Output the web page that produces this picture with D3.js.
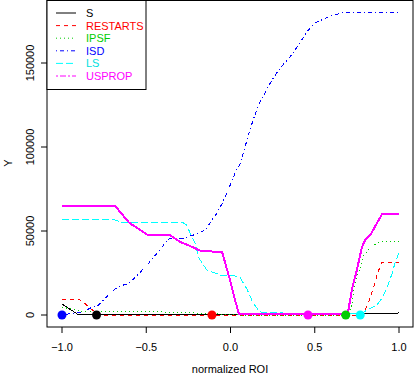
<!DOCTYPE html>
<html>
<head>
<meta charset="utf-8">
<script src="https://cdn.jsdelivr.net/npm/d3@7"></script>
<style>
  body { margin: 0; background: #fff; }
  svg { display: block; }
  text { font-family: "Liberation Sans", Arial, sans-serif; font-size: 11px; }
</style>
</head>
<body>
<svg id="chart" width="414" height="376"></svg>
<script>
// series values: [normalized ROI, Y]
const S = [[-1, 6500], [-0.9, 0], [0.0, 300], [0.5, 600], [0.9, 900], [1.0, 1200]];
const RESTARTS = [[-1, 9500], [-0.9, 9500], [-0.88, 7700], [-0.86, 6500], [-0.83, 3600],
  [-0.81, 2400], [-0.78, 0], [0.78, 0], [0.81, 5400], [0.835, 11900], [0.857, 19000],
  [0.875, 25600], [0.9, 31500], [1.0, 31500]];
const IPSF = [[-1, 4800], [-0.9, 2400], [-0.77, 1800], [-0.6, 2000], [-0.4, 1800],
  [-0.2, 1200], [0.0, 300], [0.05, 0], [0.7, 0], [0.72, 6000], [0.733, 14900],
  [0.75, 22000], [0.77, 28600], [0.786, 34500], [0.816, 38700], [0.87, 42900],
  [0.905, 44000], [1.0, 44000]];
const ISD = [[-1, 0], [-0.93, 1200], [-0.88, 1800], [-0.83, 4200], [-0.79, 5400],
  [-0.73, 11300], [-0.67, 16700], [-0.6, 19000], [-0.54, 25000], [-0.48, 31500],
  [-0.42, 38700], [-0.37, 45200], [-0.28, 45800], [-0.2, 48200], [-0.15, 50600],
  [-0.11, 56500], [-0.08, 60700], [-0.045, 67300], [-0.009, 75600], [0.027, 84500],
  [0.062, 91000], [0.086, 100000], [0.11, 108300], [0.134, 116000], [0.163, 124400],
  [0.205, 132100], [0.246, 139900], [0.294, 147000], [0.353, 153600], [0.4, 160100],
  [0.448, 167900], [0.5, 173800], [0.58, 177400], [0.66, 179800], [0.71, 180000],
  [1.0, 180000]];
const LS = [[-1, 57000], [-0.7, 57000], [-0.64, 55000], [-0.58, 54800], [-0.28, 54800],
  [-0.26, 53600], [-0.24, 48800], [-0.21, 42900], [-0.19, 34500], [-0.18, 32700],
  [-0.14, 26800], [-0.06, 23800], [0.0, 23800], [0.056, 22600], [0.1, 14900],
  [0.134, 7100], [0.175, 1800], [0.28, 1200], [0.78, 1000], [0.81, 3000],
  [0.87, 6000], [0.9, 10100], [0.93, 16700], [0.96, 25000], [0.976, 31000], [1.0, 37000]];
const USPROP = [[-1, 64900], [-0.685, 64900], [-0.6, 54800], [-0.49, 47600],
  [-0.36, 47600], [-0.3, 43500], [-0.24, 41100], [-0.19, 38700], [-0.17, 38100],
  [-0.05, 37500], [-0.033, 31500], [-0.003, 20800], [0.027, 8900], [0.05, 600],
  [0.69, 600], [0.7, 3000], [0.72, 14900], [0.75, 26800], [0.78, 40500], [0.8, 44600],
  [0.83, 47600], [0.87, 54800], [0.9, 60100], [1.0, 60100]];

const names = ["S", "RESTARTS", "IPSF", "ISD", "LS", "USPROP"];
const seriesData = [S, RESTARTS, IPSF, ISD, LS, USPROP];
// x position of the big dot on each series (all at Y = 0)
const markerX = [-0.795, -0.11, 0.684, -1.0, 0.77, 0.46];

const xTicks = [-1.0, -0.5, 0.0, 0.5, 1.0];
const yTicks = [0, 50000, 100000, 150000];

// styles (R-like line types)
const colors = ["#000000", "#ff0000", "#00cd00", "#0000ff", "#00ffff", "#ff00ff"];
const dashes = [null, "4,4", "1,3", "1,3,4,3", "7,3", "2,2,6,2"];
const plotDash = [null, "4,4", "1,3", "1,3,4,3", "7,3", null];
const widths = [1, 1, 1, 1, 1, 2];

const svg = d3.select("#chart");
const box = { left: 47, right: 413, top: 0.5, bottom: 327 };

const x = d3.scaleLinear().domain([-1, 1]).range([62, 399]);
const y = d3.scaleLinear().domain([0, 150000]).range([315, 63]);

const line = d3.line().x(d => x(d[0])).y(d => y(d[1]));

// lines
const g = svg.append("g").attr("shape-rendering", "crispEdges");
seriesData.forEach((data, i) => {
  g.append("path")
    .datum(data)
    .attr("d", line)
    .attr("fill", "none")
    .attr("stroke", colors[i])
    .attr("stroke-width", widths[i])
    .attr("stroke-dasharray", plotDash[i]);
});

// markers
svg.append("g").selectAll("circle")
  .data(markerX)
  .join("circle")
  .attr("cx", d => x(d))
  .attr("cy", y(0))
  .attr("r", 4.5)
  .attr("fill", (d, i) => colors[i]);

// box
svg.append("rect")
  .attr("x", box.left).attr("y", box.top)
  .attr("width", box.right - box.left).attr("height", box.bottom - box.top)
  .attr("fill", "none").attr("stroke", "#000");

// x axis
const xa = svg.append("g");
xa.selectAll("line").data(xTicks).join("line")
  .attr("x1", d => x(d)).attr("x2", d => x(d))
  .attr("y1", box.bottom).attr("y2", box.bottom + 6)
  .attr("stroke", "#000");
xa.selectAll("text").data(xTicks).join("text")
  .attr("x", d => x(d)).attr("y", 351)
  .attr("text-anchor", "middle")
  .text(d => d3.format(".1f")(d).replace("-", "\u2212"));

// y axis
const ya = svg.append("g");
ya.selectAll("line").data(yTicks).join("line")
  .attr("x1", box.left - 6).attr("x2", box.left)
  .attr("y1", d => y(d)).attr("y2", d => y(d))
  .attr("stroke", "#000");
ya.selectAll("text").data(yTicks).join("text")
  .attr("transform", d => "translate(34," + y(d) + ") rotate(-90)")
  .attr("text-anchor", "middle")
  .text(d => d);

// axis titles
svg.append("text")
  .attr("x", 230).attr("y", 373)
  .attr("text-anchor", "middle")
  .text("normalized ROI");
svg.append("text")
  .attr("transform", "translate(12,163) rotate(-90)")
  .attr("text-anchor", "middle")
  .text("Y");

// legend
const lg = svg.append("g");
lg.append("rect")
  .attr("x", box.left).attr("y", box.top)
  .attr("width", 99).attr("height", 89)
  .attr("fill", "#fff").attr("stroke", "#000");
names.forEach((name, i) => {
  const ly = 13 + i * 12.6;
  lg.append("line")
    .attr("x1", 56).attr("x2", 76)
    .attr("y1", ly).attr("y2", ly)
    .attr("stroke", colors[i])
    .attr("stroke-dasharray", dashes[i]);
  lg.append("text")
    .attr("x", 86).attr("y", ly + 4)
    .attr("fill", i === 0 ? "#000" : colors[i] === "#00ffff" ? "#00e0e0" : colors[i])
    .text(name);
});
</script>
</body>
</html>
